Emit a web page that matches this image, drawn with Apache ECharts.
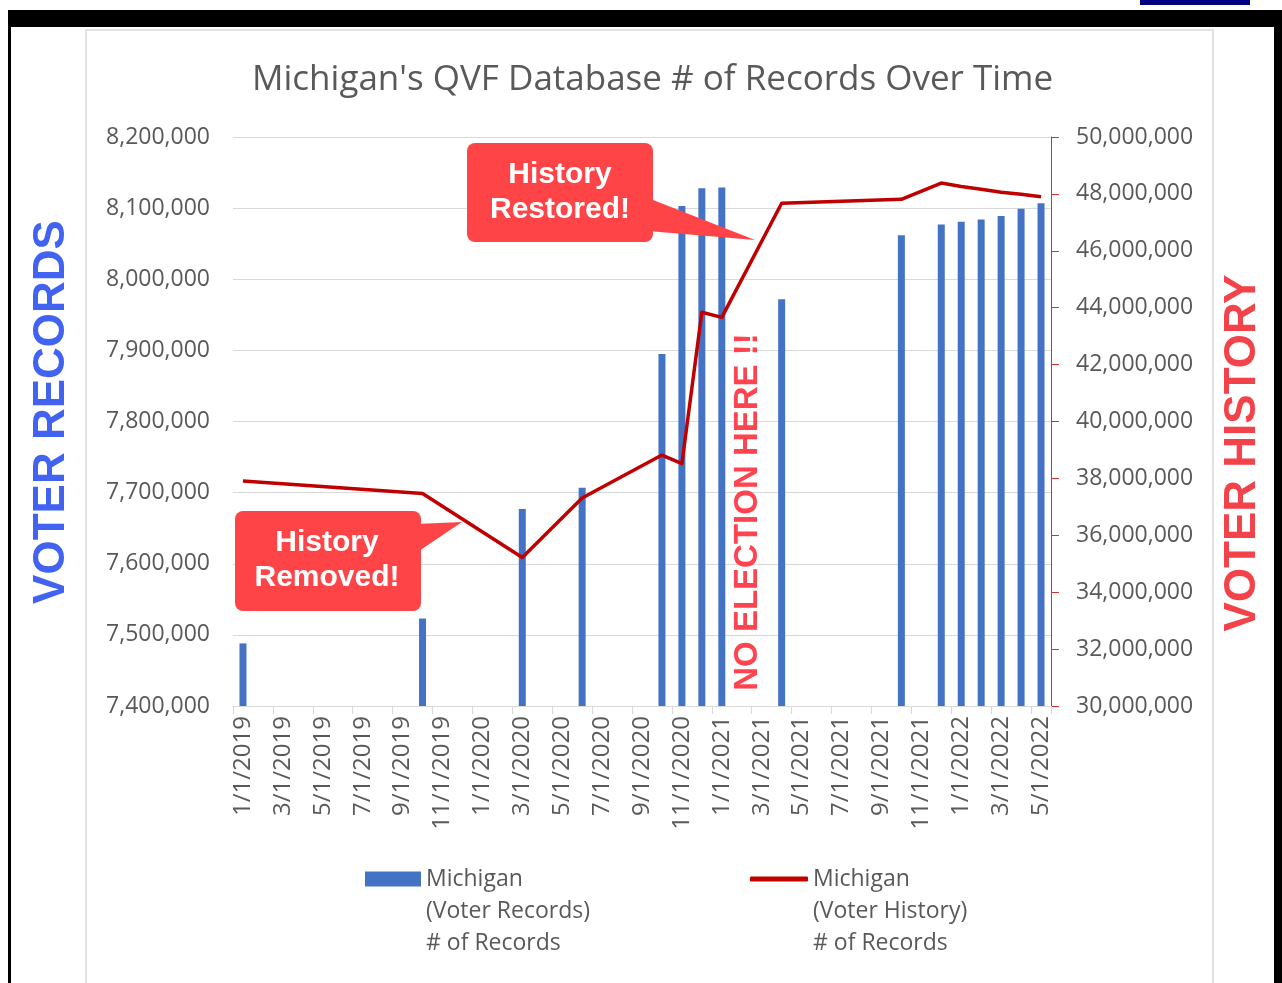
<!DOCTYPE html>
<html>
<head>
<meta charset="utf-8">
<script src="https://cdn.jsdelivr.net/npm/echarts@6/dist/echarts.min.js"></script>
<style>
html,body{margin:0;padding:0;background:#fff;}
#chart{width:1282px;height:983px;}
</style>
</head>
<body>
<div id="chart"></div>
<script>
// ---- data ----
const recordDates = ['1/1/2019','10/1/2019','3/1/2020','6/1/2020','10/1/2020','11/1/2020','12/1/2020','1/1/2021','4/1/2021','10/1/2021','12/1/2021','1/1/2022','2/1/2022','3/1/2022','4/1/2022','5/1/2022'];
const recordValues = [7488000,7523000,7677000,7707000,7895000,8103000,8128000,8129000,7972000,8062000,8077000,8081000,8084000,8089000,8099000,8107000];
const historyDates = ['1/1/2019','10/1/2019','3/1/2020','6/1/2020','10/1/2020','11/1/2020','12/1/2020','1/1/2021','4/1/2021','10/1/2021','12/1/2021','1/1/2022','2/1/2022','3/1/2022','4/1/2022','5/1/2022'];
const historyValues = [37910000,37470000,35220000,37310000,38820000,38520000,43840000,43660000,47670000,47810000,48380000,48260000,48160000,48060000,47990000,47900000];
const leftTicks = {min:7400000, max:8200000, step:100000};
const rightTicks = {min:30000000, max:50000000, step:2000000};
const firstMonth = {year:2019, month:1};
const monthCount = 41;

// month categories
const categories = [];
for (let i = 0; i < monthCount; i++) {
  const m = (firstMonth.month - 1 + i) % 12 + 1;
  const y = firstMonth.year + Math.floor((firstMonth.month - 1 + i) / 12);
  categories.push(m + '/1/' + y);
}
const recordSeries = categories.map(c => { const k = recordDates.indexOf(c); return k >= 0 ? recordValues[k] : null; });
const historySeries = categories.map(c => { const k = historyDates.indexOf(c); return k >= 0 ? historyValues[k] : null; });

const fmt = v => v.toLocaleString('en-US');
const FONT = '"Open Sans", sans-serif';
const BOLD = '"Liberation Sans", Arial, sans-serif';
const GREY = '#595959';
const recName = 'Michigan\n(Voter Records)\n# of Records';
const histName = 'Michigan\n(Voter History)\n# of Records';

const chart = echarts.init(document.getElementById('chart'));
const legendText = {fontFamily: FONT, fontSize: 23, color: GREY, lineHeight: 32};
const legendFmt = name => '\n\n' + name;
chart.setOption({
  backgroundColor: '#ffffff',
  animation: false,
  title: {
    text: "Michigan's QVF Database # of Records Over Time",
    left: 247, top: 58,
    textStyle: {fontFamily: FONT, fontSize: 35, fontWeight: 'normal', color: GREY}
  },
  grid: {left: 233, right: 231, top: 137, bottom: 277, containLabel: false},
  legend: [
    {data: [{name: recName, icon: 'rect'}], formatter: legendFmt, left: 365, top: 799, padding: 0, itemWidth: 56, itemHeight: 15, itemGap: 6, textStyle: legendText, selectedMode: false},
    {data: [{name: histName, icon: 'roundRect'}], formatter: legendFmt, left: 750, top: 799, padding: 0, itemWidth: 58, itemHeight: 5, itemGap: 6, textStyle: legendText, selectedMode: false}
  ],
  xAxis: {
    type: 'category',
    data: categories,
    boundaryGap: true,
    axisLine: {lineStyle: {color: '#D9D9D9', width: 1}},
    axisTick: {show: true, interval: 1, length: 8, lineStyle: {color: '#D9D9D9'}},
    axisLabel: {interval: 1, rotate: 90, margin: 10, fontFamily: FONT, fontSize: 24, color: GREY}
  },
  yAxis: [
    {
      type: 'value', position: 'left',
      min: leftTicks.min, max: leftTicks.max, interval: leftTicks.step,
      axisLine: {show: false}, axisTick: {show: false},
      splitLine: {lineStyle: {color: '#D9D9D9', width: 1}},
      axisLabel: {margin: 23, fontFamily: FONT, fontSize: 23, color: GREY, formatter: fmt}
    },
    {
      type: 'value', position: 'right',
      min: rightTicks.min, max: rightTicks.max, interval: rightTicks.step,
      axisLine: {show: true, lineStyle: {color: '#CC3333', width: 1}},
      axisTick: {show: true, length: 8, inside: false, lineStyle: {color: '#CC3333'}},
      splitLine: {show: false},
      axisLabel: {margin: 25, fontFamily: FONT, fontSize: 23, color: GREY, formatter: fmt}
    }
  ],
  series: [
    {
      name: recName, type: 'bar', yAxisIndex: 0, data: recordSeries,
      barWidth: 7, itemStyle: {color: '#4472C4'}
    },
    {
      name: histName, type: 'line', yAxisIndex: 1, data: historySeries,
      connectNulls: true, showSymbol: false, symbol: 'none',
      lineStyle: {color: '#C00000', width: 3.5, join: 'round'}, itemStyle: {color: '#C00000'}
    }
  ],
  graphic: [
    // frame
    {type: 'rect', shape: {x: 86, y: 30, width: 1127, height: 960}, style: {fill: 'none', stroke: '#D9D9D9', lineWidth: 1.5}, silent: true, z: -10},
    {type: 'rect', shape: {x: 8, y: 10, width: 1274, height: 17}, style: {fill: '#000'}, silent: true},
    {type: 'rect', shape: {x: 8, y: 10, width: 3, height: 973}, style: {fill: '#000'}, silent: true},
    {type: 'rect', shape: {x: 1274, y: 10, width: 8, height: 973}, style: {fill: '#000'}, silent: true},
    {type: 'rect', shape: {x: 1140, y: 0, width: 110, height: 5}, style: {fill: '#000080'}, silent: true},
    // vertical axis titles
    {type: 'text', x: 52, y: 412, rotation: Math.PI / 2,
      style: {text: 'VOTER RECORDS', fontFamily: BOLD, fontWeight: 'bold', fontSize: 44, fill: '#4262F2', align: 'center', verticalAlign: 'middle'}},
    {type: 'text', x: 1243, y: 453, rotation: Math.PI / 2,
      style: {text: 'VOTER HISTORY', fontFamily: BOLD, fontWeight: 'bold', fontSize: 44, fill: '#F2424A', align: 'center', verticalAlign: 'middle'}},
    {type: 'text', x: 748, y: 512, rotation: Math.PI / 2, z: 100,
      style: {text: 'NO ELECTION HERE !!', fontFamily: BOLD, fontWeight: 'bold', fontSize: 33, fill: '#FF4450', align: 'center', verticalAlign: 'middle'}},
    // callout: History Restored!
    {type: 'polygon', shape: {points: [[648, 198], [755, 240], [648, 231]]}, style: {fill: '#FF4447'}, z: 100},
    {type: 'rect', shape: {x: 467, y: 143, width: 186, height: 99, r: 8}, style: {fill: '#FF4447'}, z: 100},
    {type: 'text', x: 560, y: 192, z: 101,
      style: {text: 'History\nRestored!', fontFamily: BOLD, fontWeight: 'bold', fontSize: 30, lineHeight: 35, fill: '#fff', align: 'center', verticalAlign: 'middle'}},
    // callout: History Removed!
    {type: 'polygon', shape: {points: [[416, 524], [462, 522], [416, 553]]}, style: {fill: '#FF4447'}, z: 100},
    {type: 'rect', shape: {x: 235, y: 511, width: 186, height: 100, r: 8}, style: {fill: '#FF4447'}, z: 100},
    {type: 'text', x: 327, y: 560, z: 101,
      style: {text: 'History\nRemoved!', fontFamily: BOLD, fontWeight: 'bold', fontSize: 30, lineHeight: 35, fill: '#fff', align: 'center', verticalAlign: 'middle'}}
  ]
});
</script>
</body>
</html>
